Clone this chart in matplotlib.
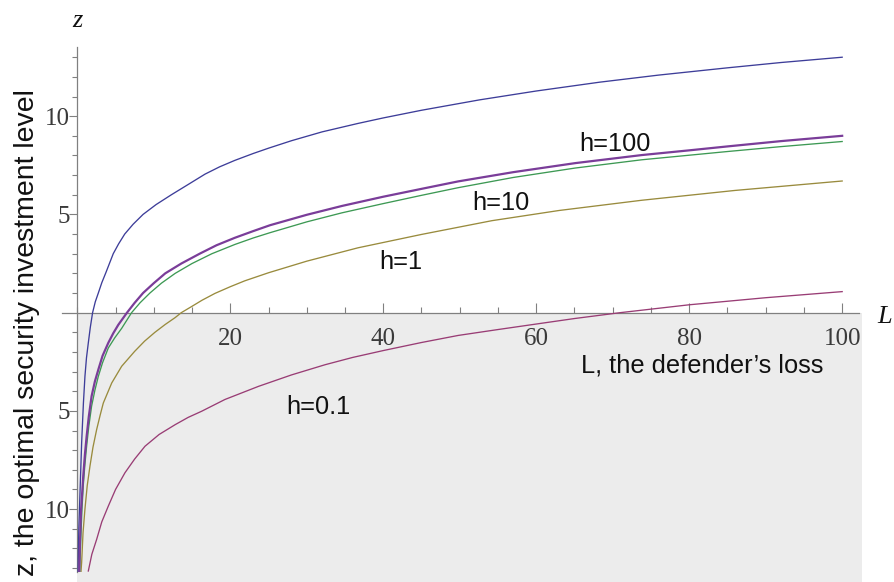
import matplotlib
matplotlib.use("Agg")
import matplotlib.pyplot as plt
from matplotlib.patches import Rectangle
from matplotlib.ticker import MultipleLocator, FixedLocator, FuncFormatter

# Optimal security investment z against the defender's loss L, one curve per h
L_top = [0.10, 0.13, 0.2, 0.35, 0.57, 0.8, 1.0, 1.2, 1.44, 1.7, 2.0, 2.35, 2.75,
         3.2, 3.75, 4.2, 4.7, 5.4, 6.2, 7.3, 8.6, 10.3, 12.3, 14.4, 16.7, 18.6,
         20.6, 23.0, 25.0, 28.0, 32.0, 36.7, 40.0, 45.0, 52.6, 60.0, 68.3, 76.0,
         85.0, 92.0, 100.0]
z_top = [-13.2, -12.5, -11.0, -9.2, -6.6, -4.6, -3.24, -2.3, -1.54, -0.75, 0.0,
         0.55, 1.0, 1.52, 2.05, 2.5, 3.0, 3.5, 4.0, 4.5, 5.0, 5.5, 6.0, 6.5, 7.05,
         7.42, 7.75, 8.1, 8.37, 8.75, 9.2, 9.63, 9.91, 10.3, 10.83, 11.28, 11.73,
         12.09, 12.46, 12.73, 13.0]

L_h100 = [0.25, 0.35, 0.5, 0.78, 1.0, 1.22, 1.5, 1.87, 2.3, 2.75, 3.3, 4.05, 4.7,
          5.36, 6.5, 7.5, 8.6, 10.0, 11.5, 13.6, 16.0, 18.2, 20.6, 23.0, 25.2,
          30.0, 34.6, 40.0, 45.0, 49.8, 57.0, 65.1, 73.8, 80.0, 85.0, 92.0, 100.0]
z_h100 = [-13.2, -11.7, -10.0, -8.3, -7.2, -6.3, -5.3, -4.25, -3.5, -2.9, -2.2,
          -1.54, -1.05, -0.62, 0.0, 0.5, 1.0, 1.5, 2.0, 2.5, 3.0, 3.43, 3.81, 4.15,
          4.45, 4.98, 5.43, 5.9, 6.3, 6.68, 7.15, 7.61, 8.02, 8.26, 8.46, 8.73, 9.0]

L_h10 = [0.3, 0.44, 0.6, 0.78, 1.0, 1.22, 1.5, 1.87, 2.3, 2.75, 3.3, 4.05, 4.9,
         5.8, 7.1, 8.2, 9.5, 11.0, 12.8, 15.0, 17.6, 20.6, 23.0, 25.2, 30.0, 34.6,
         40.0, 45.0, 49.8, 57.0, 65.1, 73.8, 85.0, 92.0, 100.0]
z_h10 = [-13.2, -11.7, -10.1, -8.8, -7.7, -6.8, -5.8, -4.76, -3.95, -3.24, -2.55,
         -1.8, -1.28, -0.8, 0.0, 0.5, 1.0, 1.5, 2.0, 2.5, 3.0, 3.47, 3.8, 4.07, 4.62,
         5.08, 5.55, 5.97, 6.36, 6.88, 7.36, 7.78, 8.2, 8.45, 8.71]

L_h1 = [0.48, 0.57, 0.75, 1.0, 1.3, 1.66, 2.05, 2.53, 3.0, 3.4, 4.5, 5.8, 7.5, 8.8,
        10.15, 11.5, 12.8, 13.6, 14.9, 16.3, 18.0, 20.0, 21.9, 25.0, 30.0, 36.7,
        45.0, 54.2, 63.0, 73.8, 86.0, 100.0]
z_h1 = [-13.2, -12.7, -11.2, -10.0, -8.8, -7.8, -6.85, -5.95, -5.2, -4.6, -3.58,
        -2.73, -1.97, -1.45, -1.0, -0.6, -0.25, 0.0, 0.3, 0.63, 0.98, 1.32, 1.62,
        2.03, 2.62, 3.3, 3.98, 4.68, 5.2, 5.72, 6.22, 6.70]

L_h01 = [1.44, 1.9, 2.53, 3.2, 4.05, 5.0, 6.23, 7.5, 8.85, 10.7, 12.8, 14.5, 16.25,
         19.3, 23.7, 28.0, 32.4, 36.0, 40.0, 45.0, 49.8, 55.0, 60.0, 65.0, 71.0,
         80.0, 90.0, 100.0]
z_h01 = [-13.15, -12.3, -11.54, -10.65, -9.85, -9.0, -8.15, -7.45, -6.8, -6.2,
         -5.7, -5.33, -5.02, -4.42, -3.75, -3.17, -2.65, -2.28, -1.93, -1.52, -1.16,
         -0.86, -0.58, -0.3, 0.0, 0.4, 0.76, 1.07]

x_major = [20, 40, 60, 80, 100]
y_major = [-10, -5, 5, 10]

W, H = 895, 582
fig = plt.figure(figsize=(W / 100, H / 100), dpi=100)
ax = fig.add_axes([62 / W, 10 / H, 797 / W, 525 / H])
ax.set_xlim(-2.0, 102.2)
ax.set_ylim(-13.2, 13.52)
ax.patch.set_alpha(0)

# shaded half-plane below z = 0
ax.add_patch(Rectangle((0, -13.7), 102.6, 13.7, facecolor="#ececec",
                       edgecolor="none", zorder=0, clip_on=False))

axis_col = "#808080"
for side in ("top", "right"):
    ax.spines[side].set_visible(False)
ax.spines["left"].set_position(("data", 0))
ax.spines["bottom"].set_position(("data", 0))
for side in ("left", "bottom"):
    ax.spines[side].set_color(axis_col)
    ax.spines[side].set_linewidth(0.9)
    ax.spines[side].set_zorder(1)

ax.xaxis.set_major_locator(FixedLocator(x_major))
ax.xaxis.set_minor_locator(MultipleLocator(5))
ax.yaxis.set_major_locator(FixedLocator(y_major))
ax.yaxis.set_minor_locator(FixedLocator([v for v in range(-13, 14) if v % 5 != 0]))
ax.yaxis.set_major_formatter(FuncFormatter(lambda v, p: f"{abs(v):g}"))

ax.tick_params(axis="x", which="major", direction="in", length=7.5, width=0.8,
               color=axis_col, pad=11)
ax.tick_params(axis="x", which="minor", direction="in", length=4.5, width=0.8,
               color=axis_col)
ax.tick_params(axis="y", which="major", direction="out", length=6, width=0.8,
               color=axis_col, pad=-1)
ax.tick_params(axis="y", which="minor", direction="out", length=3.5, width=0.8,
               color=axis_col)
for lab in ax.get_xticklabels() + ax.get_yticklabels():
    lab.set_fontfamily("Liberation Serif")
    lab.set_fontsize(18)
    lab.set_color("#3a3a3a")

lw = 0.95
ax.plot(L_top, z_top, color="#3d3d99", lw=lw, zorder=3)
ax.plot(L_h01, z_h01, color="#993d75", lw=lw, zorder=3)
ax.plot(L_h1, z_h1, color="#998b3d", lw=lw, zorder=3)
ax.plot(L_h10, z_h10, color="#3d9954", lw=lw, zorder=3)
ax.plot(L_h100, z_h100, color="#7a3d99", lw=1.6, zorder=4)


def px(x, y):
    return x / W, 1 - y / H


sans = "Liberation Sans"
fs = 18.3
for txt, x, y in [("h=100", 579, 151), ("h=10", 472, 209.5), ("h=1", 379, 269),
                  ("h=0.1", 286, 413.5), ("L, the defender\u2019s loss", 581, 372)]:
    fig.text(*px(x, y), txt, family=sans, fontsize=fs, ha="left", va="baseline",
             color="#111111")

fig.text(*px(27.5, 332.5), "z, the optimal security investment level", family=sans,
         fontsize=20.5, rotation=90, ha="center", va="center", color="#111111")
fig.text(*px(77, 21), "z", family="Liberation Serif", style="italic",
         fontsize=19, ha="center", va="center", color="#111111")
fig.text(*px(885, 317), "L", family="Liberation Serif", style="italic",
         fontsize=19, ha="center", va="center", color="#111111")

fig.savefig("out.png", dpi=100)
